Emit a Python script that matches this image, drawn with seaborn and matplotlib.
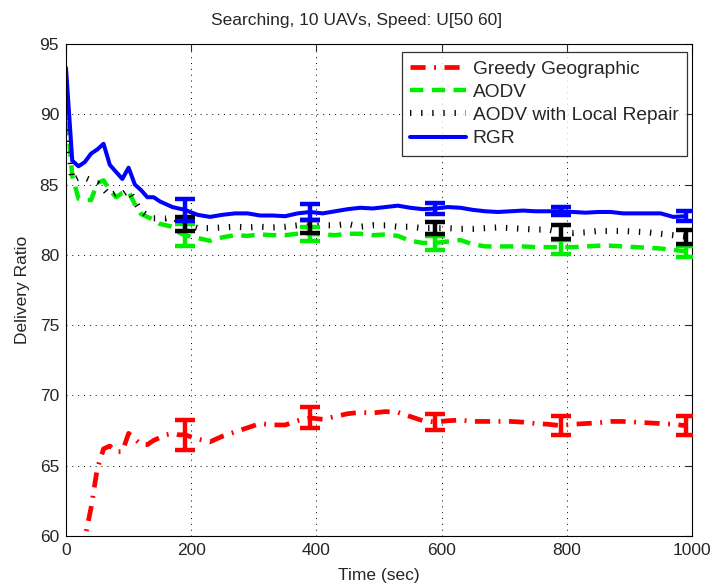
import numpy as np
import pandas as pd
import matplotlib
matplotlib.use("Agg")
import matplotlib.pyplot as plt
import seaborn as sns

# ---------------- data ----------------
time = [0, 10, 20, 30, 40, 50, 60, 70, 80, 90, 100, 110, 120, 130, 140, 150, 160, 170, 180, 190,
        210, 230, 250, 270, 290, 310, 330, 350, 370, 390, 410, 430, 450, 470, 490, 510, 530, 550,
        570, 590, 610, 630, 650, 670, 690, 710, 730, 750, 770, 790, 810, 830, 850, 870, 890, 910,
        930, 950, 970, 990]

greedy = [48.0, 53.0, 57.0, 59.8, 62.0, 64.8, 66.2, 66.4, 66.0, 66.0, 67.3, 66.9, 66.5, 66.5, 66.8,
          67.0, 67.2, 67.3, 67.2, 67.2,
          66.9, 66.7, 67.1, 67.4, 67.7, 68.0, 67.9, 67.9, 68.2, 68.4, 68.3, 68.5, 68.7, 68.8, 68.75,
          68.85, 68.8, 68.5, 68.2, 68.1, 68.2, 68.25, 68.15, 68.15, 68.15, 68.15, 68.1, 68.0, 67.95,
          67.85, 67.95, 68.0, 68.05, 68.15, 68.15, 68.1, 68.05, 68.0, 67.95, 67.85]

aodv = [91.0, 85.6, 84.0, 83.9, 83.9, 85.1, 85.3, 84.6, 84.1, 84.4, 84.5, 83.6, 82.9, 82.7, 82.5,
        82.2, 82.1, 82.0, 81.6, 81.4,
        81.2, 81.0, 81.25, 81.4, 81.35, 81.45, 81.4, 81.4, 81.5, 81.5, 81.45, 81.4, 81.5, 81.5, 81.4,
        81.45, 81.35, 81.0, 80.85, 80.85, 80.95, 81.05, 80.75, 80.6, 80.6, 80.6, 80.6, 80.55, 80.55,
        80.55, 80.55, 80.6, 80.65, 80.65, 80.6, 80.55, 80.5, 80.45, 80.35, 80.25]

aodv_lr = [90.5, 85.3, 85.5, 85.5, 85.3, 85.1, 84.7, 84.2, 84.4, 84.3, 84.6, 83.8, 83.1, 82.8, 82.6,
           82.6, 82.6, 82.7, 82.4, 82.2,
           81.9, 81.9, 81.95, 82.0, 81.95, 82.0, 81.95, 82.0, 82.1, 82.0, 82.1, 82.1, 82.2, 82.0, 82.1,
           82.1, 82.0, 82.0, 81.9, 81.9, 81.9, 81.85, 81.85, 81.9, 81.95, 81.9, 81.85, 81.8, 81.8,
           81.6, 81.55, 81.6, 81.7, 81.7, 81.7, 81.65, 81.6, 81.5, 81.4, 81.3]

rgr = [93.3, 86.7, 86.3, 86.6, 87.2, 87.5, 87.9, 86.4, 85.9, 85.4, 86.2, 85.0, 84.6, 84.1, 84.1,
       83.8, 83.6, 83.4, 83.3, 83.2,
       82.85, 82.7, 82.85, 82.95, 82.95, 82.8, 82.8, 82.75, 82.95, 83.05, 82.95, 83.1, 83.25, 83.35,
       83.3, 83.4, 83.5, 83.35, 83.25, 83.3, 83.4, 83.35, 83.2, 83.1, 83.05, 83.1, 83.15, 83.1,
       83.1, 83.1, 83.05, 83.0, 83.05, 83.05, 82.95, 82.95, 82.95, 82.95, 82.7, 82.75]

err_time = [190, 390, 590, 790, 990]
greedy_err = [1.05, 0.75, 0.55, 0.7, 0.7]
aodv_err = [0.8, 0.5, 0.5, 0.5, 0.4]
aodv_lr_err = [0.5, 0.45, 0.45, 0.5, 0.5]
rgr_err = [0.8, 0.6, 0.4, 0.3, 0.35]

labels = ["Greedy Geographic", "AODV", "AODV with Local Repair", "RGR"]
x_ticks = [0, 200, 400, 600, 800, 1000]
y_ticks = [60, 65, 70, 75, 80, 85, 90, 95]

# ---------------- style ----------------
sns.set_style("white")
plt.rcParams["font.family"] = ["Liberation Sans", "DejaVu Sans"]
plt.rcParams["font.size"] = 12.5

fig = plt.figure(figsize=(7.14, 5.87), dpi=100)
ax = fig.add_axes([66 / 714, 1 - 536 / 587, (692 - 66) / 714, (536 - 44) / 587])

series = [greedy, aodv, aodv_lr, rgr]
errs = [greedy_err, aodv_err, aodv_lr_err, rgr_err]
colors = ["#ff0000", "#00ee00", "#000000", "#0000ff"]
styles = [(0, (3.2, 1.8, 0.4, 1.8)), (0, (3.0, 1.9)), (0, (0.22, 1.6)), "-"]
widths = [3.4, 3.2, 4.4, 2.9]

for lab, vals, e, c, ls, lw in zip(labels, series, errs, colors, styles, widths):
    df = pd.DataFrame({"Time": time, "Value": vals})
    sns.lineplot(data=df, x="Time", y="Value", ax=ax, color=c, linestyle=ls,
                 linewidth=lw, label=lab, estimator=None, errorbar=None)
    ev = [vals[time.index(t)] for t in err_time]
    ax.errorbar(err_time, ev, yerr=e, fmt="none", ecolor=c, elinewidth=3.2,
                capsize=7.5, capthick=3.2, zorder=3)

for line in ax.get_lines():
    line.set_dash_capstyle("butt")

ax.set_xlim(0, 1000)
ax.set_ylim(60, 95)
ax.set_xticks(x_ticks)
ax.set_yticks(y_ticks)
ax.grid(True, linestyle=(0, (1, 5)), color="black", linewidth=0.7)
ax.tick_params(direction="in", top=True, right=True, length=5, width=0.8, labelsize=12.5, pad=5)
for sp in ax.spines.values():
    sp.set_visible(True)
    sp.set_color("black")
    sp.set_linewidth(0.8)

ax.set_xlabel("Time (sec)", fontsize=12.5, labelpad=7)
ax.set_ylabel("Delivery Ratio", fontsize=12.5, labelpad=7)
fig.text(0.5, 1 - 20 / 587, "Searching, 10 UAVs, Speed: U[50 60]", fontsize=12.5,
         ha="center", va="center")

leg = ax.legend(loc="upper right", bbox_to_anchor=(0.998, 0.992), frameon=True, fancybox=False,
                edgecolor="black", fontsize=13.8, handlelength=2.9, borderaxespad=0.2,
                labelspacing=0.3, handletextpad=0.35, borderpad=0.45)
leg.get_frame().set_linewidth(0.9)
for h in leg.get_lines():
    h.set_dash_capstyle("butt")

fig.savefig("out.png", dpi=100, facecolor="white")
